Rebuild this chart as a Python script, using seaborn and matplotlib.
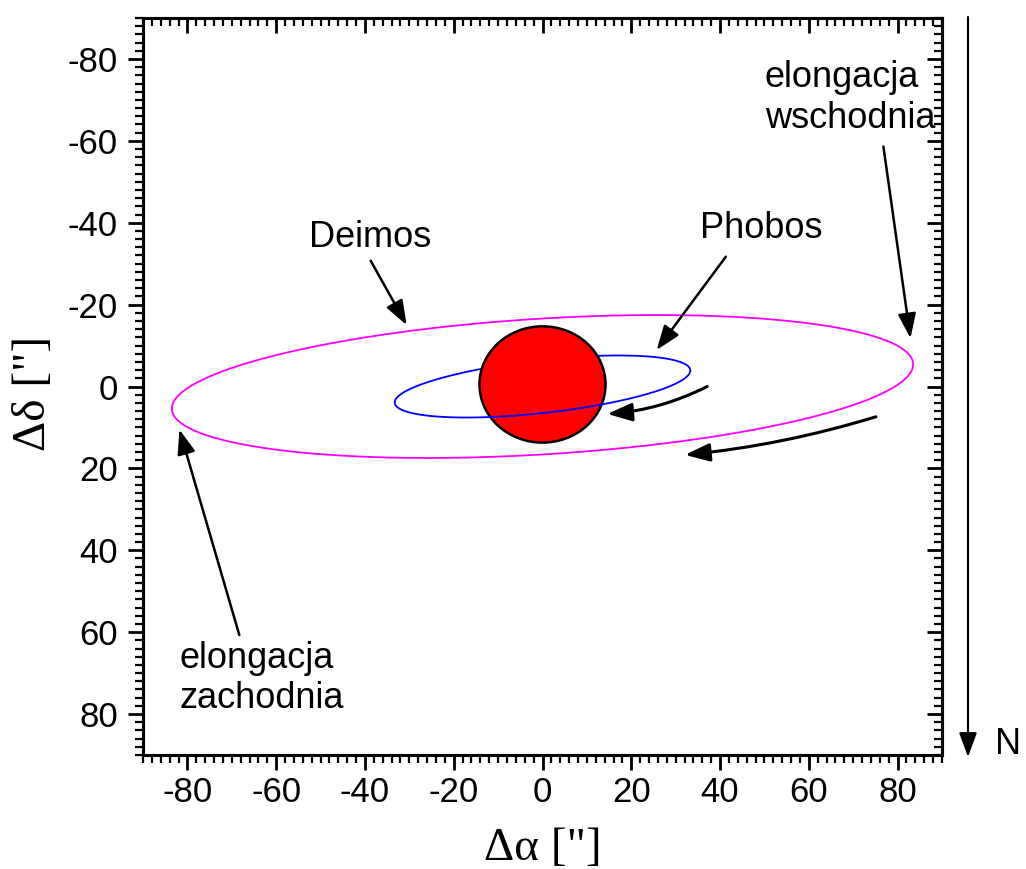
import numpy as np
import pandas as pd
import seaborn as sns
import matplotlib.pyplot as plt
from matplotlib.patches import Circle
from matplotlib.ticker import MultipleLocator

# orbit shapes as seen from Earth (arcsec)
orbit_names = ['Phobos', 'Deimos']
orbit_colors = ['#0000FF', '#FF00FF']
semi_major = [33.3, 83.5]
tilt_offset = [3.9, 5.4]
semi_minor = [6.5, 16.6]

mars_center = (0.0, -0.5)
mars_radius = 14.2

major_ticks = [-80, -60, -40, -20, 0, 20, 40, 60, 80]

# labels: text, (x, y)
label_texts = ['Deimos', 'Phobos', 'elongacja\nwschodnia', 'elongacja\nzachodnia']
label_xy = [(-38.9, -36.3), (49.2, -38.5), (50.1, -70.5), (-81.7, 71.3)]
label_ha = ['center', 'center', 'left', 'left']

# straight pointer arrows: tail -> tip
pointer_tail = [(-38.7, -30.7), (41.3, -31.7), (76.8, -58.6), (-68.3, 60.7)]
pointer_tip = [(-30.6, -15.0), (25.7, -8.9), (82.9, -11.8), (-81.8, 10.5)]

# curved arrows showing direction of motion
motion_tail = [(37.1, 0.0), (75.1, 7.4)]
motion_tip = [(14.6, 6.7), (32.1, 16.7)]
motion_rad = [-0.1, -0.05]

sns.set_style('white')
plt.rcParams['font.family'] = ['Liberation Sans', 'DejaVu Sans']
plt.rcParams['axes.unicode_minus'] = False
plt.rcParams['text.color'] = 'black'
plt.rcParams['xtick.color'] = 'black'
plt.rcParams['ytick.color'] = 'black'
plt.rcParams['axes.labelcolor'] = 'black'
serif = ['Liberation Serif', 'DejaVu Serif']

fig = plt.figure(figsize=(10.26, 8.69), dpi=100)
ax = fig.add_axes([143 / 1026, 1 - 755 / 869, 799 / 1026, 737 / 869])

t = np.linspace(0, 2 * np.pi, 721)
half = len(t) // 2
for name, color, a, c, b in zip(orbit_names, orbit_colors, semi_major, tilt_offset, semi_minor):
    df = pd.DataFrame({'x': a * np.cos(t), 'y': -c * np.cos(t) + b * np.sin(t)})
    front = df.iloc[:half + 1]
    back = df.iloc[half:]
    sns.lineplot(data=back, x='x', y='y', sort=False, estimator=None, color=color, lw=1.3, ax=ax, zorder=1)
    sns.lineplot(data=front, x='x', y='y', sort=False, estimator=None, color=color, lw=1.3, ax=ax,
                 zorder=3 if name == 'Phobos' else 1)

ax.add_patch(Circle(mars_center, mars_radius, facecolor='#FF0000', edgecolor='black', lw=1.8, zorder=2))

arrow_style = '-|>,head_length=0.6,head_width=0.22'
for tail, tip in zip(pointer_tail, pointer_tip):
    ax.annotate('', xy=tip, xytext=tail,
                arrowprops=dict(arrowstyle=arrow_style, mutation_scale=25, color='black', lw=1.8,
                                shrinkA=0, shrinkB=0), zorder=4)
for tail, tip, rad in zip(motion_tail, motion_tip, motion_rad):
    ax.annotate('', xy=tip, xytext=tail,
                arrowprops=dict(arrowstyle=arrow_style, mutation_scale=25, color='black', lw=2.2,
                                shrinkA=0, shrinkB=0, connectionstyle='arc3,rad={}'.format(rad)), zorder=4)

for txt, xy, ha in zip(label_texts, label_xy, label_ha):
    ax.text(xy[0], xy[1], txt, ha=ha, va='center', fontsize=26, linespacing=1.2, zorder=5)

ax.set_xlim(-90, 90)
ax.set_ylim(90, -90)
ax.set_xticks(major_ticks)
ax.set_yticks(major_ticks)
ax.xaxis.set_minor_locator(MultipleLocator(2))
ax.yaxis.set_minor_locator(MultipleLocator(2))
ax.tick_params(which='major', direction='out', length=11, width=2, labelsize=25, pad=4, color='black')
ax.tick_params(axis='y', which='major', pad=7)
ax.tick_params(which='minor', direction='out', length=5.5, width=1.6, color='black')
ax.tick_params(bottom=True, left=True, top=False, right=False, which='both')
for sp in ax.spines.values():
    sp.set_linewidth(2.2)
    sp.set_color('black')

secx = ax.secondary_xaxis('top')
secx.set_xticks(major_ticks)
secx.xaxis.set_minor_locator(MultipleLocator(2))
secx.tick_params(which='major', direction='in', length=11, width=2, labeltop=False)
secx.tick_params(which='minor', direction='in', length=5.5, width=1.6)
secy = ax.secondary_yaxis('right')
secy.set_yticks(major_ticks)
secy.yaxis.set_minor_locator(MultipleLocator(2))
secy.tick_params(which='major', direction='in', length=11, width=2, labelright=False)
secy.tick_params(which='minor', direction='in', length=5.5, width=1.6)
for s in [secx, secy]:
    for sp in s.spines.values():
        sp.set_linewidth(2.2)

ax.set_xlabel('Δα ["]', fontsize=34, family=serif)
ax.set_ylabel('Δδ ["]', fontsize=34, family=serif)
ax.xaxis.set_label_coords(0.5, -0.098)
ax.yaxis.set_label_coords(-0.11, 0.49)

# north arrow outside the frame
ax.annotate('', xy=(968 / 1026, 1 - 757 / 869), xytext=(968 / 1026, 1 - 17 / 869),
            xycoords='figure fraction', textcoords='figure fraction', annotation_clip=False,
            arrowprops=dict(arrowstyle=arrow_style, mutation_scale=25, color='black', lw=1.5,
                            shrinkA=0, shrinkB=0))
fig.text(1008 / 1026, 1 - 745 / 869, 'N', fontsize=26, ha='center', va='center')

fig.savefig('out.png', dpi=100)
